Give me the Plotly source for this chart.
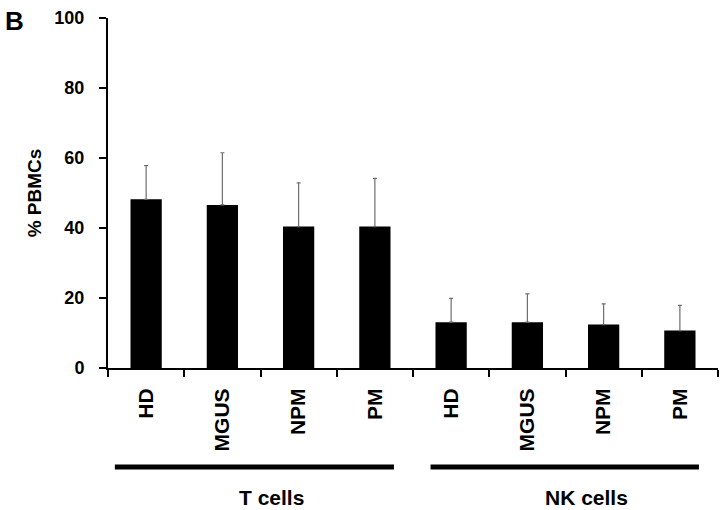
import plotly.graph_objects as go

groups = ["T cells", "NK cells"]
subgroups = ["HD", "MGUS", "NPM", "PM"]
categories = subgroups + subgroups
means = [48.2, 46.6, 40.4, 40.4, 13.1, 13.1, 12.4, 10.7]
errors = [9.6, 14.9, 12.5, 13.8, 6.8, 8.1, 5.9, 7.2]
y_ticks = [0, 20, 40, 60, 80, 100]

xpos = list(range(len(categories)))
FONT = "Arial, Liberation Sans, sans-serif"

fig = go.Figure()
fig.add_trace(go.Bar(
    x=xpos, y=means, width=0.41,
    marker=dict(color="black", line=dict(width=0)),
    error_y=dict(type="data", symmetric=False, array=errors,
                 arrayminus=[0] * len(errors), color="#6e6e6e",
                 thickness=1.2, width=2),
    showlegend=False,
))

n = len(categories)
fig.update_layout(
    width=720, height=510,
    margin=dict(l=108, r=2, t=18, b=142),
    plot_bgcolor="white", paper_bgcolor="white",
    font=dict(family=FONT, color="black", size=18),
    xaxis=dict(
        range=[-0.5, n - 0.5], tickmode="array", tickvals=xpos, ticktext=categories,
        tickangle=-90, ticks="", showline=True, linecolor="black", linewidth=2,
        showgrid=False, zeroline=False, ticklabelstandoff=10,
        tickfont=dict(family=FONT, size=21, weight="bold", color="black"),
        minor=dict(tickmode="linear", tick0=-0.5, dtick=1, ticks="outside",
                   ticklen=7, tickwidth=2, tickcolor="black", showgrid=False),
    ),
    yaxis=dict(
        range=[0, 100], tickmode="array", tickvals=y_ticks,
        ticks="outside", ticklen=7, tickwidth=2, tickcolor="black",
        showline=True, linecolor="black", linewidth=2, showgrid=False,
        zeroline=False, ticklabelstandoff=11,
        tickfont=dict(family=FONT, size=18, weight="bold", color="black"),
        title=dict(text="% PBMCs", standoff=8,
                   font=dict(family=FONT, size=19, weight="bold", color="black")),
    ),
)

# group underlines and labels
spans = [(-0.41, 3.25), (3.73, 7.25)]
label_x = [1.65, 5.77]
for g, (x0, x1), lx in zip(groups, spans, label_x):
    fig.add_shape(type="line", xref="x", yref="paper", x0=x0, x1=x1,
                  y0=-0.283, y1=-0.283, line=dict(color="black", width=5))
    fig.add_annotation(text=g, xref="x", yref="paper", x=lx, y=-0.37,
                       showarrow=False, yanchor="middle",
                       font=dict(family=FONT, size=21, weight="bold", color="black"))

fig.add_annotation(text="B", xref="paper", yref="paper", x=-105 / 610, y=1 + 14 / 350,
                   xanchor="left", yanchor="top", showarrow=False,
                   font=dict(family=FONT, size=26, weight="bold", color="black"))

fig.write_html("out.html", config={"displayModeBar": False},
               post_script="document.body.style.margin='0';")
